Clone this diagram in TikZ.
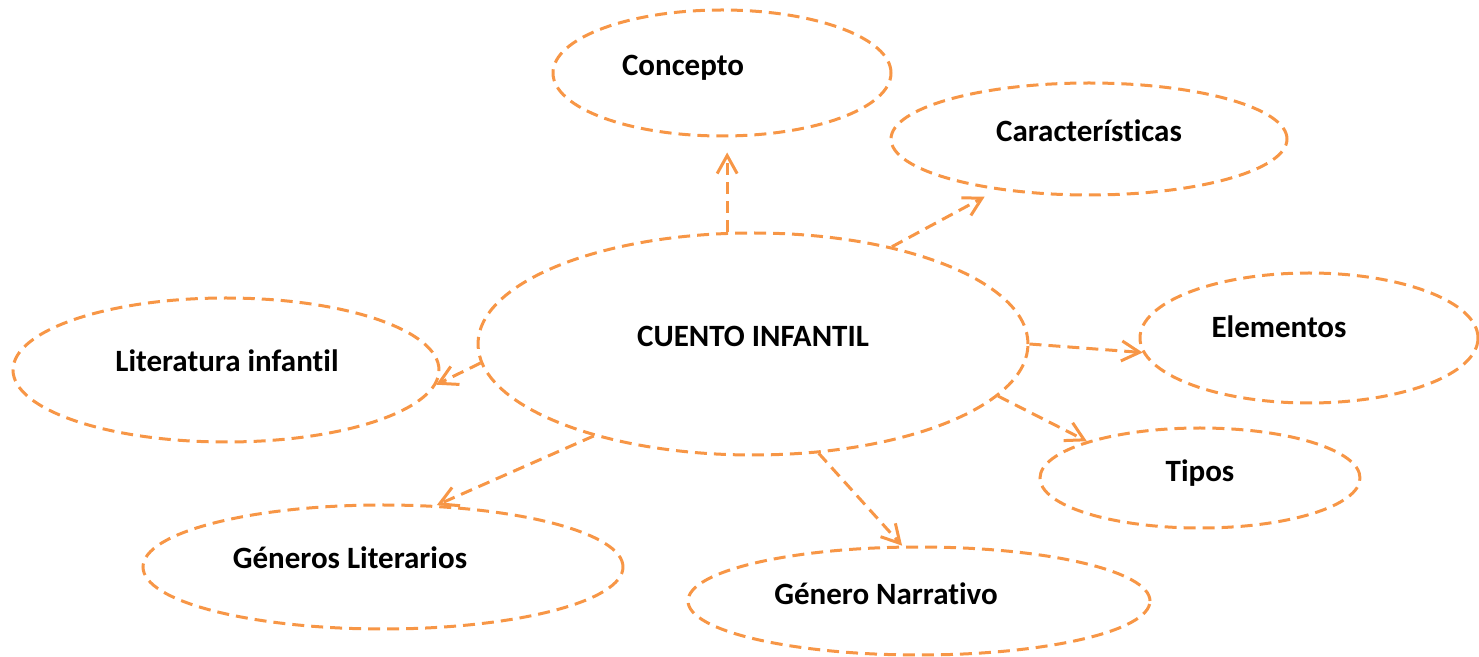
\documentclass[tikz,border=0pt]{standalone}
\usepackage{fontspec}
\setmainfont{Carlito}[Ligatures=CommonOff]
\usetikzlibrary{shapes.geometric, arrows.meta}
\definecolor{dashorange}{RGB}{247,150,70}

\begin{document}
\begin{tikzpicture}[x=0.5pt, y=-0.5pt,
    bubble/.style={ellipse, draw=dashorange, line width=1.5pt, dash pattern=on 6pt off 3.5pt, inner sep=0pt},
    txt/.style={font=\fontsize{15.5}{18}\selectfont\bfseries, inner sep=0pt},
    link/.style={-{Straight Barb[length=9pt,width=10pt]}, draw=dashorange, line width=1.5pt, dash pattern=on 6pt off 3.5pt}]
    \useasboundingbox (0,0) rectangle (1479,657);

    % Ellipses
    \node[bubble, minimum width=169pt, minimum height=63pt] (concepto) at (722,73) {};
    \node[bubble, minimum width=198pt, minimum height=56pt] (caract) at (1089,139) {};
    \node[bubble, minimum width=275pt, minimum height=111pt] (cuento) at (753,344) {};
    \node[bubble, minimum width=169pt, minimum height=65pt] (elementos) at (1309,338) {};
    \node[bubble, minimum width=213pt, minimum height=72pt] (literatura) at (226,370) {};
    \node[bubble, minimum width=160pt, minimum height=50pt] (tipos) at (1200,478) {};
    \node[bubble, minimum width=240pt, minimum height=62pt] (generos) at (383,567) {};
    \node[bubble, minimum width=231pt, minimum height=54pt] (narrativo) at (919,601) {};

    % Labels
    \node[txt] (concepto-txt) at (683,68) {Concepto};
    \node[txt] (caract-txt) at (1089,131) {Características};
    \node[txt] (cuento-txt) at (753,336) {CUENTO INFANTIL};
    \node[txt] (elementos-txt) at (1279,327) {Elementos};
    \node[txt] (literatura-txt) at (227,361) {Literatura infantil};
    \node[txt] (tipos-txt) at (1200,473) {Tipos};
    \node[txt] (generos-txt) at (350,558) {Géneros Literarios};
    \node[txt] (narrativo-txt) at (886,594) {Género Narrativo};

    % Arrows
    \draw[link, shorten >=7.5pt] (cuento.103) -- (cuento.103 |- concepto.south);
    \draw[link, shorten >=7pt] (cuento.35) -- (caract.209);
    \draw[link] (cuento.0) -- (elementos.185);
    \draw[link] (cuento.-12) -- (tipos.162);
    \draw[link] (cuento.-59) -- (narrativo.107);
    \draw[link] (cuento.210) -- (generos.49);
    \draw[link] (cuento.184) -- (literatura.-4);
\end{tikzpicture}
\end{document}
